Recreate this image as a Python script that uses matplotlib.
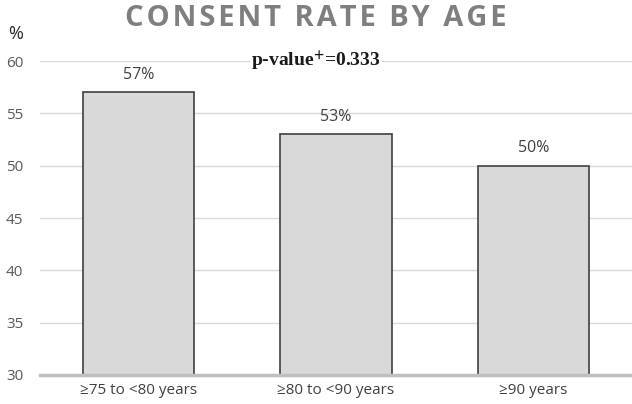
import matplotlib
matplotlib.use('Agg')
import matplotlib.pyplot as plt

categories = ['≥75 to <80 years', '≥80 to <90 years', '≥90 years']
rates = [57, 53, 50]
yticks = [30, 35, 40, 45, 50, 55, 60]
title = 'CONSENT RATE BY AGE'

plt.rcParams['font.family'] = ['Open Sans', 'DejaVu Sans']
plt.rcParams['mathtext.fontset'] = 'stix'

fig = plt.figure(figsize=(6.32, 4.04), dpi=100)
ax = fig.add_axes([0.063, 0.0718, 0.937, 0.777])

x = range(len(categories))
ax.bar(x, rates, width=0.565, color='#d9d9d9', edgecolor='#404040', linewidth=1.2, zorder=3)
for i, v in enumerate(rates):
    ax.annotate(f'{v}%', (i, v), xytext=(0, 7), textcoords='offset points',
                ha='center', va='bottom', fontsize=11.5, color='#404040')

ax.set_ylim(30, 60)
ax.set_xlim(-0.5, 2.5)
ax.set_yticks(yticks)
ax.set_xticks(list(x))
ax.set_xticklabels(categories, fontsize=11, color='#404040')
ax.tick_params(axis='y', labelsize=11, labelcolor='#595959', length=0, pad=12)
ax.tick_params(axis='x', length=0, pad=6)
ax.grid(axis='y', color='#d9d9d9', linewidth=1, zorder=0)
for s in ['top', 'right', 'left']:
    ax.spines[s].set_visible(False)
ax.spines['bottom'].set_color('#bfbfbf')
ax.spines['bottom'].set_linewidth(2.5)
ax.spines['bottom'].set_zorder(4)

# letter-spaced title
fig.text(0.5, 0.955, '\u200a'.join(title), ha='center', va='center',
         fontsize=21, fontweight='bold', color='#7f7f7f')
fig.text(0.013, 0.915, '%', ha='left', va='center', fontsize=13, color='#262626')
fig.text(0.5, 0.847, r'p-value$^{\mathbf{+}}$=0.333', ha='center', va='center',
         fontsize=14, fontweight='bold', family='Liberation Serif', color='#1a1a1a',
         bbox=dict(facecolor='white', edgecolor='none', pad=1))

fig.savefig('out.png', dpi=100)
